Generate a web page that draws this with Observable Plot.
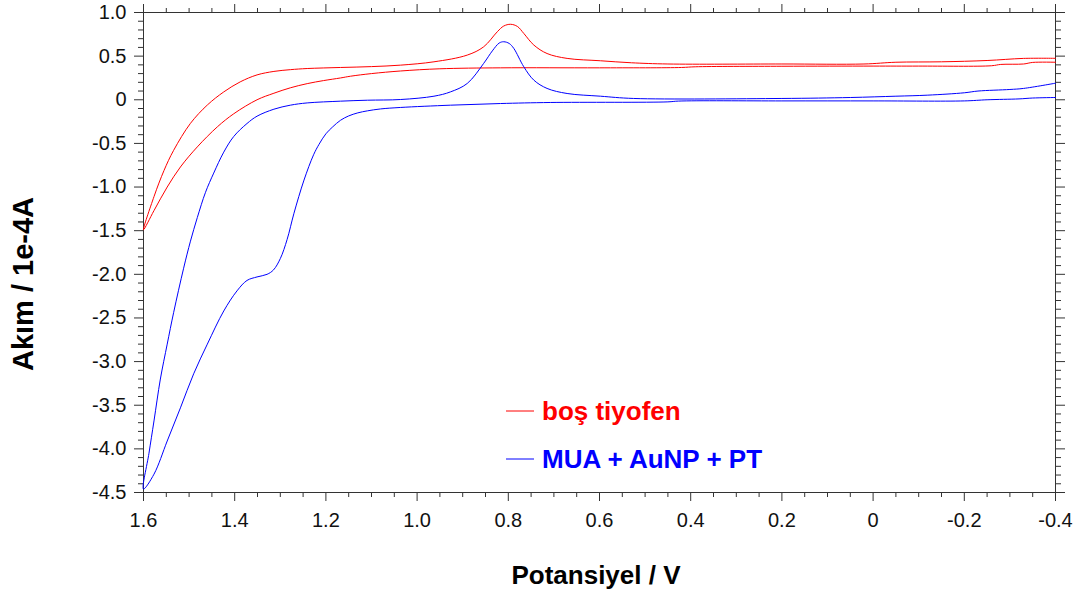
<!DOCTYPE html>
<html>
<head>
<meta charset="utf-8">
<script src="https://cdn.jsdelivr.net/npm/d3@7"></script>
<script src="https://cdn.jsdelivr.net/npm/@observablehq/plot@0.6"></script>
<style>
  html, body { margin: 0; padding: 0; background: #fff; }
</style>
</head>
<body>
<div id="chart"></div>
<script>
// ---- data ----
const xTicks = [1.6, 1.4, 1.2, 1.0, 0.8, 0.6, 0.4, 0.2, 0, -0.2, -0.4];
const yTicks = [1.0, 0.5, 0, -0.5, -1.0, -1.5, -2.0, -2.5, -3.0, -3.5, -4.0, -4.5];
const seriesNames = ["boş tiyofen", "MUA + AuNP + PT"];
const seriesColors = ["#ff0000", "#0000ff"];

// boş tiyofen (red) : lower branch -0.4 -> 1.6, then upper branch 1.6 -> -0.4
const redX = [
  -0.4, -0.35, -0.33, -0.28, -0.26, -0.1, 0.0, 0.2, 0.39, 0.42, 0.6, 0.817, 0.95, 1.036, 1.1, 1.146, 1.168, 1.205, 1.241, 1.278, 1.314, 1.351, 1.402, 1.438, 1.482, 1.519, 1.548, 1.577, 1.6,
  1.577, 1.555, 1.534, 1.497, 1.46, 1.424, 1.388, 1.351, 1.314, 1.278, 1.241, 1.168, 1.1, 1.036, 0.963, 0.89, 0.854, 0.824, 0.81, 0.795, 0.78, 0.766, 0.744, 0.715, 0.671, 0.598, 0.53, 0.45, 0.2, 0.02, -0.05, -0.15, -0.25, -0.33, -0.4
];
const redY = [
  0.43, 0.428, 0.41, 0.405, 0.39, 0.386, 0.386, 0.384, 0.378, 0.37, 0.366, 0.366, 0.355, 0.33, 0.3, 0.27, 0.25, 0.22, 0.185, 0.137, 0.075, 0.0, -0.16, -0.31, -0.54, -0.77, -1.0, -1.27, -1.49,
  -1.11, -0.81, -0.58, -0.27, -0.06, 0.09, 0.205, 0.285, 0.325, 0.345, 0.358, 0.37, 0.38, 0.397, 0.435, 0.512, 0.607, 0.78, 0.845, 0.865, 0.84, 0.76, 0.627, 0.53, 0.474, 0.447, 0.424, 0.41, 0.41, 0.41, 0.43, 0.435, 0.45, 0.474, 0.475
];

// MUA + AuNP + PT (blue) : lower branch -0.4 -> 1.6, then upper branch 1.6 -> -0.4
const blueX = [
  -0.4, -0.35, -0.32, -0.25, -0.2, 0.0, 0.2, 0.427, 0.45, 0.707, 0.817, 0.927, 1.036, 1.08, 1.109, 1.13, 1.15, 1.168, 1.185, 1.2, 1.215, 1.227, 1.248, 1.27, 1.285, 1.3, 1.315, 1.329, 1.351, 1.373, 1.395, 1.424, 1.46, 1.49, 1.519, 1.548, 1.577, 1.6,
  1.588, 1.577, 1.563, 1.548, 1.534, 1.512, 1.497, 1.482, 1.464, 1.446, 1.424, 1.402, 1.373, 1.351, 1.314, 1.278, 1.241, 1.168, 1.109, 1.036, 0.963, 0.927, 0.89, 0.854, 0.835, 0.82, 0.81, 0.798, 0.788, 0.766, 0.744, 0.715, 0.671, 0.598, 0.525, 0.2, 0.05, -0.05, -0.12, -0.2, -0.23, -0.3, -0.33, -0.4
];
const blueY = [
  0.026, 0.02, 0.01, 0.0, -0.013, -0.013, -0.013, -0.015, -0.024, -0.031, -0.043, -0.062, -0.088, -0.105, -0.127, -0.15, -0.185, -0.235, -0.31, -0.39, -0.51, -0.63, -0.92, -1.3, -1.6, -1.82, -1.95, -2.0, -2.03, -2.07, -2.19, -2.42, -2.8, -3.14, -3.53, -3.91, -4.29, -4.46,
  -4.05, -3.68, -3.2, -2.8, -2.44, -1.93, -1.62, -1.35, -1.06, -0.84, -0.6, -0.42, -0.272, -0.188, -0.108, -0.062, -0.036, -0.016, -0.005, 0.003, 0.041, 0.09, 0.187, 0.417, 0.56, 0.65, 0.665, 0.645, 0.589, 0.378, 0.225, 0.13, 0.072, 0.041, 0.015, 0.015, 0.026, 0.041, 0.053, 0.08, 0.1, 0.118, 0.13, 0.19
];

// ---- build ----
const red = redX.map((x, i) => ({x, y: redY[i]}));
const blue = blueX.map((x, i) => ({x, y: blueY[i]}));
const fmt = d => Math.abs(d) < 1e-9 ? "0" : d.toFixed(1);
const xMinor = d3.range(-0.4, 1.6001, 0.05).map(v => +v.toFixed(2)).filter(v => !xTicks.some(t => Math.abs(t - v) < 1e-6));
const yMinor = d3.range(-4.5, 1.0001, 0.1).map(v => +v.toFixed(2)).filter(v => !yTicks.some(t => Math.abs(t - v) < 1e-6));
const axisColor = "#333";

const W = 1080, H = 596;
const plot = Plot.plot({
  width: W, height: H,
  marginLeft: 143, marginRight: 25, marginTop: 12, marginBottom: 104,
  style: {fontFamily: "'Liberation Sans', Arial, sans-serif", fontSize: "20px", color: "#111", background: "#fff"},
  x: {domain: [1.6, -0.4]},
  y: {domain: [-4.5, 1.0]},
  marks: [
    Plot.axisX(xTicks, {anchor: "bottom", tickSize: 9, tickPadding: 11, tickFormat: fmt, stroke: axisColor, label: null}),
    Plot.axisX(xMinor, {anchor: "bottom", tickSize: 5, fill: "none", stroke: axisColor, label: null}),
    Plot.axisX(xTicks, {anchor: "top", tickSize: 9, fill: "none", stroke: axisColor, label: null}),
    Plot.axisX(xMinor, {anchor: "top", tickSize: 5, fill: "none", stroke: axisColor, label: null}),
    Plot.axisY(yTicks, {anchor: "left", tickSize: 9, tickPadding: 8, tickFormat: fmt, stroke: axisColor, label: null}),
    Plot.axisY(yMinor, {anchor: "left", tickSize: 5, fill: "none", stroke: axisColor, label: null}),
    Plot.axisY(yTicks, {anchor: "right", tickSize: 9, fill: "none", stroke: axisColor, label: null}),
    Plot.axisY(yMinor, {anchor: "right", tickSize: 5, fill: "none", stroke: axisColor, label: null}),
    Plot.frame({stroke: axisColor}),
    Plot.line(red, {x: "x", y: "y", stroke: seriesColors[0], strokeWidth: 1, curve: "catmull-rom"}),
    Plot.line(blue, {x: "x", y: "y", stroke: seriesColors[1], strokeWidth: 1, curve: "catmull-rom"})
  ]
});

const svg = d3.select(plot);
// axis titles
svg.append("text")
  .attr("x", 596).attr("y", 584)
  .attr("text-anchor", "middle")
  .attr("font-weight", "bold").attr("font-size", 26)
  .attr("fill", "#000")
  .text("Potansiyel / V");
svg.append("text")
  .attr("transform", "translate(33,284) rotate(-90)")
  .attr("text-anchor", "middle")
  .attr("font-weight", "bold").attr("font-size", 29)
  .attr("fill", "#000")
  .text("Akım / 1e-4A");
// legend
const legY = [411, 459];
seriesNames.forEach((name, i) => {
  svg.append("line")
    .attr("x1", 506).attr("x2", 534).attr("y1", legY[i]).attr("y2", legY[i])
    .attr("stroke", seriesColors[i]).attr("stroke-width", 1);
  svg.append("text")
    .attr("x", 542).attr("y", legY[i]).attr("dy", "0.35em")
    .attr("text-anchor", "start")
    .attr("font-weight", "bold").attr("font-size", 26)
    .attr("fill", seriesColors[i])
    .text(name);
});

document.getElementById("chart").appendChild(plot);
</script>
</body>
</html>
